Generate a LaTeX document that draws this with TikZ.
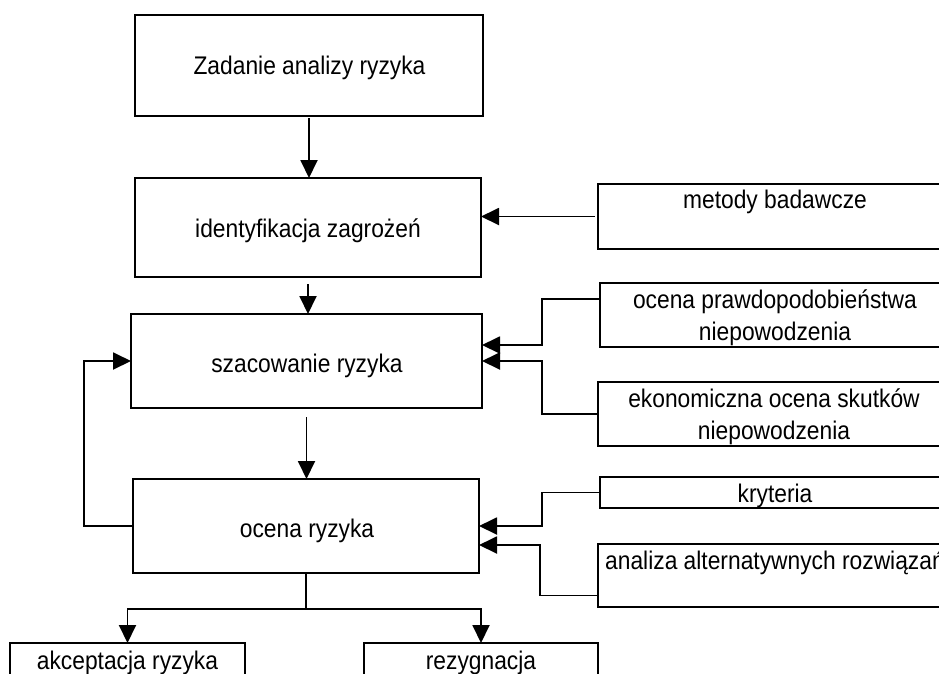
\documentclass[tikz,border=0pt]{standalone}
\usepackage{fontspec}
\setmainfont{Liberation Sans}[FakeStretch=0.894]
\usetikzlibrary{arrows.meta,calc}
\begin{document}
\begin{tikzpicture}[x=1pt,y=-1pt,
  box/.style={draw=black,line width=1.9pt,inner sep=0pt,outer sep=0pt},
  lbl/.style={inner sep=0pt,outer sep=0pt,anchor=base,align=center,font=\fontsize{25.5}{32}\selectfont},
  wire/.style={draw=black,line width=1.9pt},
  arr/.style={wire,-{Triangle[length=18pt,width=17pt]}}]
\useasboundingbox (0,0) rectangle (939,673);
\clip (0,0) rectangle (939,673);
\fill[white] (0,0) rectangle (939,673);
% main column
\node[box,minimum width=348pt,minimum height=101pt] (b1) at (309,65.5) {};
\node[box,minimum width=346pt,minimum height=99pt] (b2) at (308,227.5) {};
\node[box,minimum width=351pt,minimum height=94pt] (b3) at (306.5,361) {};
\node[box,minimum width=346pt,minimum height=94pt] (b4) at (306,526) {};
\node[box,minimum width=235pt,minimum height=40pt] (l1) at (127.5,663) {};
\node[box,minimum width=234pt,minimum height=40pt] (l2) at (481,663) {};
% right column
\node[box,minimum width=354pt,minimum height=65pt] (r1) at (775,216.5) {};
\node[box,minimum width=352pt,minimum height=64pt] (r2) at (776,315) {};
\node[box,minimum width=354pt,minimum height=64pt] (r3) at (775,414) {};
\node[box,minimum width=352pt,minimum height=31pt] (r4) at (776,492.5) {};
\node[box,minimum width=354pt,minimum height=63pt] (r5) at (775,575.5) {};
% texts
\node[lbl] (t1) at (309.5,74) {Zadanie analizy ryzyka};
\node[lbl] (t2) at (308,237) {identyfikacja zagrożeń};
\node[lbl] (t3) at (307,372) {szacowanie ryzyka};
\node[lbl] (t4) at (307,537) {ocena ryzyka};
\node[lbl] (t5) at (127.5,669) {akceptacja ryzyka};
\node[lbl] (t6) at (481,669) {rezygnacja};
\node[lbl] (s1) at (775,208) {metody badawcze};
\node[lbl] (s2) at (775,340) {ocena prawdopodobieństwa\\niepowodzenia};
\node[lbl] (s3) at (774,439) {ekonomiczna ocena skutków\\niepowodzenia};
\node[lbl] (s4) at (775,502) {kryteria};
\node[lbl] (s5) at (775,569) {analiza alternatywnych rozwiązań};
% connectors
\draw[arr,shorten <=2pt] (b1.south) -- (b1.south |- b2.north);
\draw[arr,shorten <=7pt] (b2.south) -- (b2.south |- b3.north);
\draw[arr,shorten <=9pt] (b3.south) -- (b3.south |- b4.north);
\draw[arr,shorten <=3pt] (r1.west) -- (r1.west -| b2.east);
\draw[arr] ($(r2.west)+(0,-16)$) -- ++(-58,0) |- ($(b3.east)+(0,-16)$);
\draw[arr] (r3.west) -- ++(-56,0) |- (b3.east);
\draw[arr] (r4.west) -- ++(-58,0) |- (b4.east);
\draw[arr] ($(r5.west)+(0,20)$) -- ++(-58,0) |- ($(b4.east)+(0,19)$);
\draw[arr] (b4.west) -- ++(-49,0) |- (b3.west);
\draw[wire] (b4.south) -- ++(0,36) coordinate (split);
\draw[arr] (split) -| (l1.north);
\draw[arr] (split) -| (l2.north);
\end{tikzpicture}
\end{document}
